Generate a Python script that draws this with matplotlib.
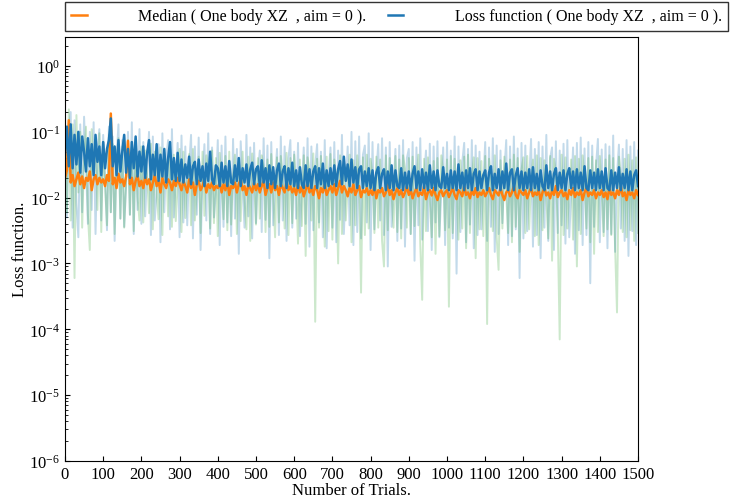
import numpy as np
import matplotlib.pyplot as plt

plt.rcParams['font.family'] = ['Liberation Serif', 'DejaVu Serif']
plt.rcParams['mathtext.fontset'] = 'stix'
plt.rcParams['font.size'] = 12

# loss per trial, sampled every 5 trials
loss = [
    0.045, 0.12, 0.03, 0.13, 0.028, 0.09, 0.032, 0.1, 0.024, 0.085, 0.05, 0.025, 0.08, 0.03, 0.065, 0.022, 0.09, 0.035, 0.06, 0.022,
    0.07, 0.028, 0.055, 0.075, 0.16, 0.03, 0.06, 0.022, 0.075, 0.025, 0.05, 0.09, 0.024, 0.055, 0.02, 0.07, 0.028, 0.085, 0.021, 0.05,
    0.025, 0.06, 0.02, 0.048, 0.075, 0.019, 0.045, 0.022, 0.065, 0.018, 0.045, 0.021, 0.055, 0.017, 0.04, 0.07, 0.019, 0.04, 0.018, 0.048,
    0.018, 0.038, 0.017, 0.032, 0.02, 0.042, 0.016, 0.03, 0.035, 0.016, 0.038, 0.018, 0.03, 0.015, 0.033, 0.018, 0.05, 0.019, 0.016, 0.031,
    0.028, 0.015, 0.034, 0.017, 0.03, 0.015, 0.036, 0.017, 0.016, 0.031, 0.018, 0.04, 0.015, 0.028, 0.017, 0.032, 0.015, 0.027, 0.034, 0.016,
    0.027, 0.03, 0.015, 0.037, 0.017, 0.028, 0.014, 0.031, 0.016, 0.029, 0.014, 0.026, 0.033, 0.015, 0.025, 0.03, 0.014, 0.028, 0.016, 0.034,
    0.015, 0.026, 0.014, 0.029, 0.016, 0.014, 0.031, 0.015, 0.027, 0.014, 0.025, 0.03, 0.014, 0.028, 0.016, 0.033, 0.014, 0.026, 0.015, 0.028,
    0.016, 0.031, 0.015, 0.027, 0.036, 0.016, 0.042, 0.018, 0.032, 0.015, 0.038, 0.017, 0.029, 0.014, 0.027, 0.03, 0.014, 0.025, 0.015, 0.028,
    0.014, 0.026, 0.013, 0.024, 0.029, 0.014, 0.023, 0.027, 0.013, 0.025, 0.014, 0.031, 0.013, 0.026, 0.015, 0.014, 0.028, 0.013, 0.024, 0.014,
    0.025, 0.013, 0.023, 0.03, 0.014, 0.025, 0.013, 0.027, 0.014, 0.024, 0.013, 0.031, 0.014, 0.025, 0.013, 0.026, 0.015, 0.014, 0.029, 0.014,
    0.023, 0.013, 0.026, 0.014, 0.025, 0.013, 0.032, 0.014, 0.024, 0.013, 0.026, 0.014, 0.028, 0.013, 0.023, 0.027, 0.013, 0.025, 0.014, 0.022,
    0.026, 0.013, 0.024, 0.03, 0.013, 0.023, 0.014, 0.027, 0.013, 0.025, 0.014, 0.033, 0.013, 0.024, 0.027, 0.013, 0.022, 0.028, 0.014, 0.025,
    0.013, 0.024, 0.014, 0.027, 0.013, 0.029, 0.014, 0.023, 0.013, 0.026, 0.015, 0.013, 0.031, 0.014, 0.025, 0.013, 0.023, 0.028, 0.013, 0.024,
    0.014, 0.026, 0.013, 0.023, 0.028, 0.014, 0.025, 0.013, 0.027, 0.014, 0.024, 0.013, 0.03, 0.014, 0.013, 0.026, 0.014, 0.024, 0.013, 0.027,
    0.014, 0.025, 0.013, 0.028, 0.014, 0.013, 0.026, 0.013, 0.024, 0.014, 0.029, 0.013, 0.023, 0.014, 0.027, 0.013, 0.025, 0.013, 0.022, 0.026,
    0.015,
]

# median over runs, sampled every 5 trials
median = [
    0.02, 0.026, 0.15, 0.017, 0.022, 0.015, 0.019, 0.024, 0.016, 0.021, 0.014, 0.02, 0.018, 0.025, 0.013, 0.019, 0.022, 0.016, 0.02, 0.017,
    0.019, 0.015, 0.022, 0.018, 0.19, 0.016, 0.02, 0.014, 0.023, 0.017, 0.019, 0.015, 0.021, 0.073, 0.016, 0.02, 0.013, 0.018, 0.022, 0.015,
    0.018, 0.014, 0.021, 0.016, 0.019, 0.013, 0.017, 0.022, 0.015, 0.018, 0.012, 0.02, 0.016, 0.014, 0.019, 0.017, 0.013, 0.018, 0.015, 0.02,
    0.016, 0.013, 0.018, 0.015, 0.012, 0.019, 0.014, 0.017, 0.011, 0.016, 0.018, 0.013, 0.015, 0.019, 0.012, 0.016, 0.014, 0.017, 0.013, 0.015,
    0.014, 0.017, 0.012, 0.016, 0.013, 0.018, 0.011, 0.015, 0.014, 0.017, 0.012, 0.016, 0.019, 0.013, 0.015, 0.011, 0.016, 0.014, 0.012, 0.017,
    0.013, 0.016, 0.012, 0.015, 0.018, 0.011, 0.014, 0.016, 0.012, 0.017, 0.013, 0.015, 0.011, 0.016, 0.014, 0.012, 0.018, 0.013, 0.015, 0.012,
    0.014, 0.011, 0.016, 0.012, 0.015, 0.0105, 0.013, 0.017, 0.012, 0.014, 0.011, 0.015, 0.013, 0.0098, 0.014, 0.012, 0.016, 0.011, 0.013, 0.015,
    0.012, 0.016, 0.011, 0.014, 0.018, 0.012, 0.015, 0.013, 0.0105, 0.014, 0.012, 0.016, 0.011, 0.013, 0.015, 0.0102, 0.013, 0.012, 0.014, 0.011,
    0.013, 0.011, 0.015, 0.0098, 0.013, 0.012, 0.014, 0.0105, 0.012, 0.016, 0.011, 0.013, 0.0095, 0.012, 0.014, 0.011, 0.013, 0.0102, 0.012, 0.015,
    0.011, 0.013, 0.0098, 0.012, 0.014, 0.0105, 0.012, 0.011, 0.015, 0.0095, 0.012, 0.013, 0.0108, 0.014, 0.011, 0.0092, 0.012, 0.013, 0.0105, 0.012,
    0.013, 0.0102, 0.012, 0.014, 0.011, 0.0095, 0.013, 0.012, 0.0105, 0.015, 0.011, 0.012, 0.0098, 0.013, 0.011, 0.014, 0.0102, 0.012, 0.011, 0.013,
    0.0105, 0.012, 0.014, 0.011, 0.0095, 0.013, 0.012, 0.0108, 0.014, 0.011, 0.0092, 0.012, 0.013, 0.0105, 0.012, 0.015, 0.011, 0.0098, 0.013, 0.012,
    0.011, 0.013, 0.0098, 0.012, 0.014, 0.0105, 0.012, 0.011, 0.013, 0.0092, 0.012, 0.014, 0.0108, 0.012, 0.0098, 0.013, 0.011, 0.015, 0.0102, 0.012,
    0.013, 0.0105, 0.012, 0.0095, 0.013, 0.011, 0.014, 0.0102, 0.012, 0.011, 0.013, 0.0092, 0.012, 0.014, 0.0105, 0.012, 0.011, 0.013, 0.0098, 0.012,
    0.011, 0.013, 0.0102, 0.012, 0.0095, 0.014, 0.011, 0.012, 0.0098, 0.013, 0.011, 0.015, 0.0105, 0.012, 0.0092, 0.013, 0.011, 0.012, 0.0098, 0.013,
    0.011,
]

# spread of the individual runs (blue set), every 5 trials
runs_blue = [
    0.18, 0.005, 0.12, 0.2, 0.0035, 0.15, 0.008, 0.0025, 0.13, 0.006, 0.17, 0.03, 0.004, 0.1, 0.0065, 0.14, 0.0028, 0.05, 0.11, 0.0045,
    0.09, 0.02, 0.0032, 0.12, 0.006, 0.085, 0.0022, 0.04, 0.13, 0.0048, 0.075, 0.0036, 0.015, 0.1, 0.0055, 0.14, 0.0028, 0.08, 0.0065, 0.11,
    0.004, 0.07, 0.0052, 0.025, 0.1, 0.0027, 0.085, 0.0045, 0.012, 0.065, 0.0021, 0.095, 0.006, 0.04, 0.075, 0.0033, 0.11, 0.005, 0.018, 0.068,
    0.0025, 0.088, 0.0042, 0.06, 0.0038, 0.03, 0.09, 0.0024, 0.06, 0.0055, 0.082, 0.0016, 0.02, 0.065, 0.0045, 0.095, 0.0028, 0.058, 0.005, 0.012,
    0.075, 0.0019, 0.062, 0.0036, 0.085, 0.0042, 0.035, 0.0026, 0.078, 0.0048, 0.055, 0.0014, 0.072, 0.015, 0.0035, 0.09, 0.0052, 0.058, 0.0024, 0.068,
    0.0041, 0.025, 0.052, 0.003, 0.08, 0.0046, 0.062, 0.0012, 0.07, 0.0038, 0.018, 0.055, 0.0027, 0.085, 0.0045, 0.06, 0.0022, 0.04, 0.075, 0.0035,
    0.05, 0.0048, 0.068, 0.0026, 0.012, 0.058, 0.004, 0.08, 0.0018, 0.06, 0.0032, 0.03, 0.065, 0.0042, 0.05, 0.0025, 0.075, 0.0017, 0.022, 0.058,
    0.0035, 0.07, 0.0021, 0.052, 0.0046, 0.09, 0.0028, 0.015, 0.06, 0.0038, 0.1, 0.0019, 0.072, 0.003, 0.085, 0.0024, 0.045, 0.062, 0.0042, 0.095,
    0.0016, 0.07, 0.0033, 0.025, 0.065, 0.0045, 0.08, 0.0027, 0.058, 0.0009, 0.07, 0.0036, 0.014, 0.055, 0.0022, 0.062, 0.0034, 0.075, 0.0018, 0.04,
    0.055, 0.0028, 0.07, 0.0011, 0.058, 0.0038, 0.08, 0.0023, 0.02, 0.052, 0.0031, 0.066, 0.0016, 0.06, 0.0042, 0.072, 0.0025, 0.012, 0.058, 0.0019,
    0.07, 0.0035, 0.052, 0.0024, 0.085, 0.0007, 0.06, 0.003, 0.035, 0.068, 0.0021, 0.055, 0.0039, 0.075, 0.0017, 0.062, 0.0027, 0.05, 0.0033, 0.016,
    0.07, 0.0022, 0.058, 0.0036, 0.08, 0.0015, 0.062, 0.0028, 0.052, 0.0041, 0.025, 0.075, 0.0019, 0.06, 0.0026, 0.085, 0.0033, 0.056, 0.0006, 0.068,
    0.0024, 0.062, 0.0031, 0.018, 0.078, 0.0018, 0.055, 0.0027, 0.07, 0.0012, 0.06, 0.0035, 0.09, 0.0022, 0.04, 0.058, 0.0016, 0.072, 0.0029, 0.052,
    0.0038, 0.066, 0.002, 0.075, 0.0025, 0.012, 0.058, 0.0014, 0.068, 0.0032, 0.082, 0.0019, 0.056, 0.0027, 0.07, 0.0005, 0.062, 0.0036, 0.03, 0.078,
    0.0021, 0.054, 0.003, 0.065, 0.0017, 0.06, 0.0028, 0.088, 0.0015, 0.022, 0.064, 0.0034, 0.055, 0.0022, 0.075, 0.0013, 0.06, 0.0031, 0.07, 0.0019,
    0.052,
]

# spread of the individual runs (green set), every 5 trials
runs_green = [
    0.16, 0.006, 0.22, 0.0045, 0.13, 0.0006, 0.18, 0.012, 0.1, 0.0035, 0.04, 0.12, 0.0055, 0.0016, 0.11, 0.025, 0.075, 0.0065, 0.095, 0.003,
    0.07, 0.015, 0.0038, 0.09, 0.006, 0.065, 0.0028, 0.035, 0.08, 0.0048, 0.06, 0.0035, 0.018, 0.075, 0.0055, 0.058, 0.0031, 0.07, 0.01, 0.0045,
    0.06, 0.0042, 0.052, 0.022, 0.0058, 0.066, 0.0033, 0.05, 0.012, 0.0047, 0.058, 0.0027, 0.048, 0.03, 0.0052, 0.062, 0.0036, 0.045, 0.0044, 0.016,
    0.055, 0.003, 0.05, 0.0049, 0.02, 0.046, 0.0038, 0.055, 0.0045, 0.012, 0.042, 0.0029, 0.05, 0.0053, 0.044, 0.025, 0.0034, 0.052, 0.0041, 0.04,
    0.0026, 0.048, 0.014, 0.0047, 0.043, 0.0032, 0.05, 0.0039, 0.022, 0.045, 0.0028, 0.04, 0.0044, 0.05, 0.009, 0.0033, 0.042, 0.0022, 0.047, 0.018,
    0.0039, 0.04, 0.0048, 0.044, 0.03, 0.003, 0.038, 0.0036, 0.046, 0.011, 0.0025, 0.041, 0.0042, 0.043, 0.02, 0.0034, 0.048, 0.0027, 0.04, 0.0041,
    0.045, 0.015, 0.002, 0.038, 0.0037, 0.044, 0.0013, 0.041, 0.026, 0.0045, 0.047, 0.00013, 0.039, 0.0035, 0.043, 0.012, 0.0018, 0.042, 0.0031, 0.046,
    0.0023, 0.038, 0.02, 0.001, 0.044, 0.0028, 0.04, 0.0045, 0.014, 0.045, 0.0021, 0.037, 0.0038, 0.044, 0.016, 0.00036, 0.041, 0.0027, 0.045, 0.0034,
    0.039, 0.022, 0.0029, 0.042, 0.0035, 0.038, 0.0022, 0.0009, 0.044, 0.0032, 0.04, 0.011, 0.0035, 0.043, 0.003, 0.038, 0.0024, 0.044, 0.028, 0.0035,
    0.04, 0.0028, 0.042, 0.0037, 0.017, 0.045, 0.002, 0.00028, 0.039, 0.0031, 0.041, 0.009, 0.0025, 0.036, 0.0014, 0.04, 0.0026, 0.044, 0.024, 0.0032,
    0.038, 0.00022, 0.043, 0.0029, 0.039, 0.013, 0.0023, 0.037, 0.0034, 0.042, 0.0017, 0.045, 0.0029, 0.02, 0.041, 0.0012, 0.04, 0.0033, 0.036, 0.0026,
    0.043, 0.00012, 0.039, 0.018, 0.0031, 0.044, 0.0025, 0.0008, 0.037, 0.0034, 0.042, 0.011, 0.0029, 0.038, 0.0021, 0.045, 0.0036, 0.04, 0.0015, 0.027,
    0.041, 0.0029, 0.043, 0.0033, 0.017, 0.038, 0.0026, 0.044, 0.0019, 0.04, 0.0032, 0.037, 0.01, 0.0024, 0.043, 0.0011, 0.039, 0.025, 0.0031, 0.00007,
    0.045, 0.0027, 0.041, 0.0034, 0.014, 0.038, 0.0023, 0.043, 0.0009, 0.039, 0.0028, 0.044, 0.02, 0.0034, 0.04, 0.0021, 0.042, 0.0014, 0.037, 0.003,
    0.043, 0.012, 0.0026, 0.038, 0.0033, 0.044, 0.0027, 0.04, 0.0018, 0.00018, 0.042, 0.022, 0.003, 0.039, 0.0025, 0.045, 0.0032, 0.037, 0.0022, 0.041,
    0.0029,
]

n_trials = 1500
label_tag = 'One body XZ  , aim = 0'


def trials(series):
    return np.linspace(0, n_trials, len(series))


fig = plt.figure(figsize=(7.3, 5.02), dpi=100)
ax = fig.add_axes([0.089, 0.080, 0.785, 0.845])

ax.plot(trials(runs_blue), runs_blue, color='#1f77b4', alpha=0.27, lw=1.4)
ax.plot(trials(runs_green), runs_green, color='#2ca02c', alpha=0.24, lw=1.4)
ax.plot(trials(median), median, color='#ff7f0e', lw=1.8,
        label=f'Median ( {label_tag} ).')
ax.plot(trials(loss), loss, color='#1f77b4', lw=1.8,
        label=f'Loss function ( {label_tag} ).')

ax.set_yscale('log')
ax.set_ylim(1e-6, 2.8)
ax.set_xlim(0, n_trials)
ax.set_xticks(np.arange(0, n_trials + 1, 100))
ax.tick_params(which='both', direction='in', labelsize=12)
ax.set_xlabel('Number of Trials.', fontsize=12, labelpad=0)
ax.set_ylabel('Loss function.', fontsize=12, labelpad=1)

ax.legend(loc='lower left', bbox_to_anchor=(0.0, 1.014, 1.157, 0.064),
          mode='expand', ncol=2, borderaxespad=0, fancybox=False,
          edgecolor='#333333', framealpha=1, fontsize=11.5,
          handlelength=1.0, handletextpad=3.2)

plt.savefig('out.png', dpi=100)
